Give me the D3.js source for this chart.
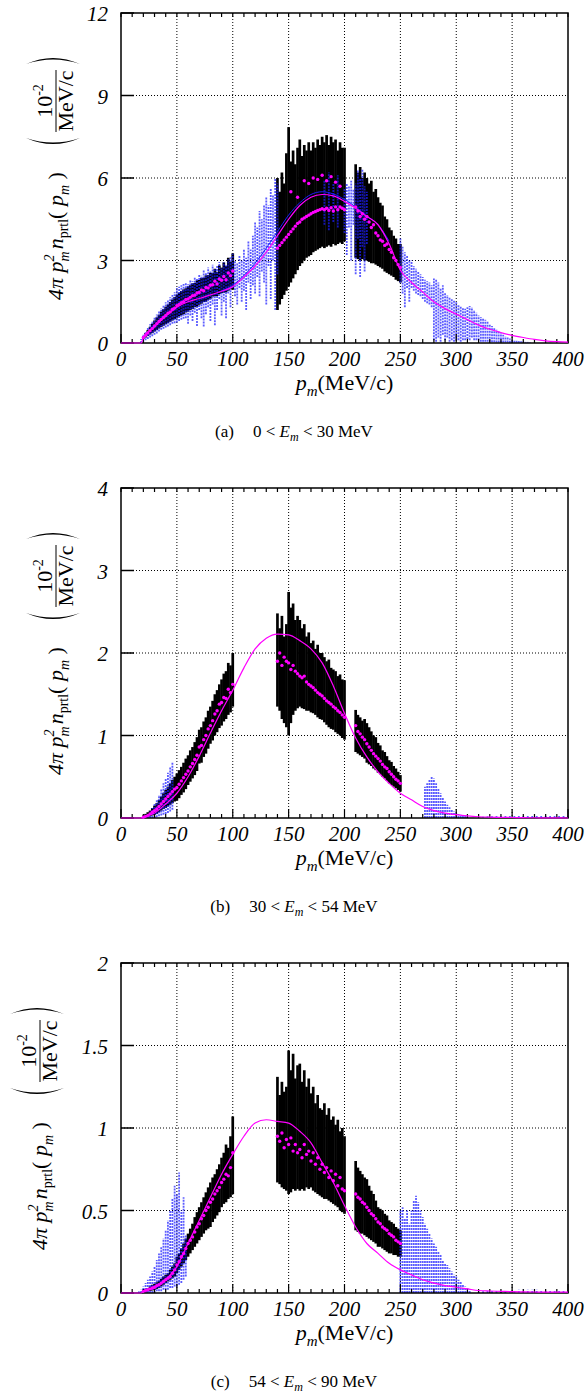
<!DOCTYPE html>
<html>
<head>
<meta charset="utf-8">
<script src="https://cdn.jsdelivr.net/npm/d3@7"></script>
<style>
	html, body { margin: 0; padding: 0; background: #fff; }
	svg { display: block; }
</style>
</head>
<body>
<svg id="chart" width="587" height="1399"></svg>
<script>
// Axis ticks and captions

var xTicks = [0, 50, 100, 150, 200, 250, 300, 350, 400];
var yTicksA = [0, 3, 6, 9, 12];
var yTicksB = [0, 1, 2, 3, 4];
var yTicksC = [0, 0.5, 1, 1.5, 2];
var captionTag = ["(a)", "(b)", "(c)"];
var captionLo = ["0", "30", "54"];
var captionHi = ["30", "54", "90"];

// Momentum grids (MeV/c)

var barP = d3.range(20, 101, 2).concat(d3.range(140, 201, 2), d3.range(210, 251, 2));
var curveP = [0, 10, 18, 20, 30, 40, 50, 60, 70, 80,
	90, 100, 110, 120, 130, 140, 150, 160, 170, 180,
	190, 200, 210, 220, 230, 240, 250, 260, 270, 280,
	290, 300, 310, 320, 330, 340, 350, 360, 370, 380,
	390, 400];
var bandPA = d3.range(18, 141, 2).concat([182, 186, 190, 194], d3.range(200, 221, 2), d3.range(250, 367, 2));
var bandPB = d3.range(22, 47, 2).concat(d3.range(272, 311, 2), d3.range(320, 401, 4));
var bandPC = d3.range(16, 59, 2).concat(d3.range(250, 313, 2), d3.range(320, 401, 4));

// (a) 0 < Em < 30 MeV

var barLoA = [0.15, 0.2, 0.25, 0.31, 0.36, 0.42, 0.47, 0.53, 0.58, 0.63,
	0.68, 0.72, 0.77, 0.82, 0.87, 0.92, 0.97, 1.01, 1.05, 1.11,
	1.14, 1.2, 1.23, 1.3, 1.32, 1.39, 1.43, 1.49, 1.5, 1.57,
	1.61, 1.69, 1.7, 1.71, 1.78, 1.82, 1.83, 1.84, 1.9, 1.95,
	1.94,
	1.2, 1.4, 1.6, 1.75, 1.9, 2.05, 2.2, 2.35, 2.5, 2.65,
	2.8, 2.9, 3.0, 3.1, 3.15, 3.2, 3.3, 3.35, 3.4, 3.45,
	3.5, 3.45, 3.5, 3.55, 3.5, 3.6, 3.55, 3.6, 3.65, 3.6,
	3.7,
	3.1, 3.05, 3.0, 3.05, 3.0, 3.0, 2.95, 2.9, 2.9, 2.85,
	2.8, 2.75, 2.7, 2.6, 2.55, 2.5, 2.45, 2.4, 2.3, 2.25,
	2.2];
var barHiA = [0.25, 0.36, 0.47, 0.59, 0.7, 0.82, 0.93, 1.03, 1.14, 1.23,
	1.32, 1.4, 1.49, 1.58, 1.67, 1.76, 1.83, 1.89, 1.95, 1.99,
	2.06, 2.1, 2.17, 2.18, 2.28, 2.29, 2.37, 2.37, 2.46, 2.47,
	2.55, 2.55, 2.7, 2.59, 2.82, 2.74, 2.93, 2.8, 3.1, 2.95,
	3.26,
	6.0, 5.5, 6.2, 5.8, 6.9, 7.85, 6.6, 7.0, 6.5, 7.1,
	7.4, 6.8, 7.2, 7.0, 7.3, 7.0, 7.3, 7.1, 7.4, 7.2,
	7.5, 7.3, 7.56, 7.2, 7.5, 7.3, 7.4, 7.0, 7.3, 7.1,
	7.1,
	6.5, 6.2, 6.4, 6.0, 6.2, 6.0, 5.8, 5.9, 5.5, 5.6,
	5.3, 5.1, 5.0, 4.6, 4.5, 4.2, 4.1, 3.9, 3.8, 3.6,
	3.6];
var pointsA = [0.2, 0.28, 0.36, 0.45, 0.53, 0.62, 0.7, 0.78, 0.86, 0.93,
	1.0, 1.08, 1.13, 1.22, 1.27, 1.36, 1.4, 1.47, 1.5, 1.58,
	1.6, 1.66, 1.72, 1.74, 1.82, 1.84, 1.93, 1.9, 2.02, 2.0,
	2.1, 2.12, 2.25, 2.15, 2.33, 2.28, 2.42, 2.3, 2.55, 2.45,
	2.62,
	3.45, 3.55, 3.65, 3.75, 3.85, 3.95, 4.05, 4.15, 4.25, 4.35,
	4.4, 4.5, 4.55, 4.6, 4.65, 4.7, 4.75, 4.78, 4.82, 4.85,
	4.88, 4.85, 4.9, 4.82, 4.92, 4.8, 4.95, 4.85, 4.95, 4.9,
	4.85,
	4.95, 4.8, 4.6, 4.7, 4.5, 4.6, 4.4, 4.2, 4.3, 4.0,
	3.9, 3.75, 3.7, 3.55, 3.6, 3.4, 3.3, 3.1, 3.0, 2.85,
	2.75];
var extraPA = [152, 158, 164, 168, 172, 176, 180, 184, 188, 192, 196];
var extraA = [5.5, 5.3, 5.9, 5.8, 6.0, 5.95, 6.1, 5.9, 6.05, 5.85, 5.7];
var bandLoA = [0, 0.05, 0.1, 0.15, 0.2, 0.25, 0.3, 0.35, 0.42, 0.48,
	0.52, 0.56, 0.6, 0.65, 0.7, 0.72, 0.75, 0.8, 0.85, 0.88,
	0.9, 0.7, 1.0, 0.8, 1.1, 0.62, 1.2, 0.9, 0.6, 1.05,
	1.3, 0.8, 1.4, 0.65, 1.2, 1.6, 1.0, 1.5, 0.9, 1.8,
	1.3, 2.0, 1.7, 1.4, 2.0, 1.5, 1.9, 1.2, 2.2, 1.6,
	2.1, 1.8, 2.4, 1.7, 2.6, 2.2, 1.4, 2.8, 1.6, 3.0,
	1.2, 2.5,
	4.3, 4.1, 4.4, 4.2,
	4.0, 3.2, 4.2, 3.0, 4.3, 2.5, 3.8, 2.4, 3.5, 2.6, 3.6,
	2.2, 1.8, 1.3, 2.0, 1.5, 2.0, 1.9, 1.8, 1.75, 1.7,
	1.6, 1.5, 1.45, 1.4, 1.3, 0.1, 0.05, 0.2, 0.05, 0.3,
	0.1, 0.2, 0.05, 0.1, 0.05, 0.1, 0.1, 0.05, 0.1, 0.1,
	0.15, 0.1, 0.2, 0.1, 0.1, 0.1, 0.05, 0.05, 0.05, 0.05,
	0.05, 0.03, 0.03, 0.02, 0.02, 0.02, 0.02, 0.02, 0.02, 0.01,
	0.01, 0.01, 0.01, 0.01, 0.01, 0.01, 0.01, 0.01, 0.01];
var bandHiA = [0.15, 0.3, 0.42, 0.55, 0.68, 0.8, 0.92, 1.04, 1.15, 1.26,
	1.37, 1.48, 1.57, 1.66, 1.75, 1.85, 2.0, 2.05, 2.1, 2.15,
	2.2, 2.15, 2.3, 2.25, 2.4, 2.35, 2.5, 2.45, 2.65, 2.55,
	2.75, 2.6, 2.85, 2.7, 2.8, 2.95, 2.75, 2.95, 2.85, 3.05,
	3.15, 3.25, 3.0, 2.9, 3.2, 3.0, 3.4, 3.1, 3.7, 3.4,
	3.9, 4.4, 4.2, 4.8, 4.5, 5.0, 5.3, 5.0, 5.6, 5.4,
	6.0, 5.8,
	5.9, 6.2, 5.8, 6.1,
	5.6, 5.8, 5.7, 5.9, 5.6, 5.8, 6.3, 6.0, 6.3, 5.7, 5.5,
	3.8, 3.5, 3.3, 3.2, 3.0, 3.0, 2.8, 2.7, 2.6, 2.5,
	2.4, 2.3, 2.25, 2.2, 2.1, 2.35, 2.3, 2.2, 2.0, 2.1,
	1.85, 1.75, 1.65, 1.6, 1.55, 1.5, 1.4, 1.35, 1.3, 1.25,
	1.3, 1.35, 1.3, 1.2, 1.1, 1.0, 0.95, 0.9, 0.85, 0.78,
	0.7, 0.62, 0.55, 0.48, 0.42, 0.36, 0.3, 0.25, 0.2, 0.16,
	0.13, 0.1, 0.08, 0.07, 0.06, 0.05, 0.04, 0.04, 0.03];
var curveA = [0, 0, 0, 0.2, 0.6, 0.98, 1.3, 1.5, 1.62, 1.75,
	1.88, 2.05, 2.4, 2.8, 3.3, 3.9, 4.5, 5.0, 5.3, 5.4,
	5.35, 5.15, 4.9, 4.6, 4.3, 3.6, 2.65, 2.2, 1.85, 1.5,
	1.25, 1.05, 0.85, 0.65, 0.5, 0.38, 0.28, 0.2, 0.13, 0.08,
	0.05, 0.03];
var blueCurvePA = [90, 100, 110, 120, 130, 140, 150, 160, 170, 180, 190, 200, 210, 220, 230, 240];
var blueCurveA = [1.9, 2.1, 2.45, 2.9, 3.45, 4.05, 4.65, 5.1, 5.4, 5.5, 5.42, 5.22, 4.95, 4.62, 4.3, 3.7];

// (b) 30 < Em < 54 MeV

var barLoB = [0, 0, 0.01, 0.02, 0.03, 0.04, 0.05, 0.07, 0.09, 0.11,
	0.12, 0.14, 0.16, 0.18, 0.2, 0.21, 0.24, 0.28, 0.31, 0.35,
	0.4, 0.44, 0.48, 0.52, 0.57, 0.66, 0.67, 0.74, 0.78, 0.84,
	0.9, 0.94, 1.0, 1.04, 1.09, 1.12, 1.17, 1.2, 1.25, 1.28,
	1.35,
	1.35, 1.3, 1.2, 1.15, 1.1, 1.0, 1.15, 1.25, 1.3, 1.33,
	1.35, 1.33, 1.32, 1.3, 1.3, 1.28, 1.27, 1.25, 1.22, 1.2,
	1.19, 1.16, 1.13, 1.1, 1.08, 1.07, 1.04, 1.02, 1.0, 0.97,
	0.95,
	0.8, 0.78, 0.76, 0.74, 0.72, 0.67, 0.65, 0.63, 0.6, 0.58,
	0.55, 0.53, 0.5, 0.48, 0.45, 0.42, 0.4, 0.38, 0.36, 0.34,
	0.32];
var barHiB = [0.03, 0.05, 0.07, 0.09, 0.12, 0.15, 0.18, 0.22, 0.26, 0.3,
	0.34, 0.38, 0.42, 0.46, 0.5, 0.54, 0.58, 0.62, 0.67, 0.72,
	0.76, 0.82, 0.86, 0.92, 0.98, 1.07, 1.1, 1.17, 1.22, 1.3,
	1.35, 1.42, 1.5, 1.55, 1.62, 1.68, 1.75, 1.78, 1.88, 1.85,
	2.0,
	2.48, 2.3, 2.45, 2.2, 2.35, 2.74, 2.55, 2.6, 2.4, 2.45,
	2.4, 2.3, 2.35, 2.2, 2.25, 2.12, 2.15, 2.05, 2.1, 2.0,
	2.0, 1.95, 1.9, 1.92, 1.82, 1.8, 1.78, 1.72, 1.74, 1.68,
	1.67,
	1.31, 1.25, 1.22, 1.18, 1.2, 1.15, 1.1, 1.05, 1.0, 0.98,
	0.91, 0.88, 0.82, 0.8, 0.75, 0.7, 0.68, 0.63, 0.6, 0.56,
	0.52];
var pointsB = [0.01, 0.02, 0.03, 0.05, 0.07, 0.09, 0.11, 0.14, 0.17, 0.2,
	0.23, 0.26, 0.29, 0.32, 0.35, 0.37, 0.41, 0.45, 0.49, 0.53,
	0.57, 0.62, 0.66, 0.71, 0.76, 0.86, 0.88, 0.95, 1.0, 1.08,
	1.12, 1.18, 1.26, 1.3, 1.38, 1.4, 1.46, 1.45, 1.56, 1.52,
	1.62,
	1.9, 2.0, 1.85, 1.95, 1.9, 1.88, 1.8, 1.85, 1.78, 1.75,
	1.72, 1.7, 1.72, 1.65, 1.62, 1.6, 1.58, 1.55, 1.52, 1.5,
	1.48, 1.45, 1.42, 1.4, 1.38, 1.35, 1.33, 1.3, 1.28, 1.25,
	1.22,
	1.12, 1.05, 1.02, 0.98, 0.95, 0.9, 0.86, 0.82, 0.78, 0.75,
	0.72, 0.69, 0.65, 0.62, 0.6, 0.56, 0.53, 0.5, 0.47, 0.45,
	0.42];
var bandLoB = [0, 0, 0, 0, 0, 0.01, 0.02, 0.03, 0.04, 0.05,
	0.06, 0.08, 0.1,
	0, 0, 0, 0, 0, 0, 0, 0, 0, 0,
	0, 0, 0, 0, 0, 0, 0, 0, 0, 0,
	0, 0, 0, 0, 0, 0, 0, 0, 0, 0,
	0, 0, 0, 0, 0, 0, 0, 0, 0, 0,
	0];
var bandHiB = [0.03, 0.05, 0.08, 0.12, 0.17, 0.22, 0.28, 0.35, 0.42, 0.48,
	0.55, 0.62, 0.67,
	0.38, 0.42, 0.46, 0.5, 0.48, 0.42, 0.36, 0.3, 0.25, 0.2,
	0.16, 0.13, 0.1, 0.08, 0.06, 0.05, 0.04, 0.03, 0.025, 0.02,
	0.01, 0.015, 0.02, 0.02, 0.025, 0.03, 0.03, 0.03, 0.035, 0.035,
	0.035, 0.035, 0.035, 0.035, 0.03, 0.03, 0.03, 0.03, 0.025, 0.025,
	0.02];
var curveB = [0, 0, 0, 0.01, 0.06, 0.17, 0.3, 0.5, 0.75, 1.03,
	1.3, 1.55, 1.82, 2.05, 2.18, 2.23, 2.22, 2.15, 2.05, 1.88,
	1.6, 1.27, 0.97, 0.74, 0.56, 0.42, 0.3, 0.22, 0.14, 0.09,
	0.06, 0.04, 0.025, 0.015, 0.01, 0.008, 0.006, 0.004, 0.003, 0.002,
	0.001, 0];

// (c) 54 < Em < 90 MeV

var barLoC = [0, 0.005, 0.01, 0.012, 0.015, 0.02, 0.025, 0.03, 0.04, 0.05,
	0.06, 0.07, 0.08, 0.09, 0.1, 0.12, 0.14, 0.16, 0.18, 0.2,
	0.22, 0.24, 0.26, 0.28, 0.3, 0.32, 0.34, 0.36, 0.38, 0.39,
	0.4, 0.43, 0.45, 0.47, 0.49, 0.52, 0.54, 0.55, 0.57, 0.58,
	0.6,
	0.67, 0.66, 0.64, 0.63, 0.62, 0.6, 0.61, 0.63, 0.62, 0.63,
	0.62, 0.63, 0.62, 0.64, 0.63, 0.64, 0.62, 0.61, 0.6, 0.59,
	0.58, 0.57, 0.57, 0.56, 0.55, 0.54, 0.53, 0.52, 0.5, 0.49,
	0.48,
	0.38, 0.37, 0.36, 0.36, 0.35, 0.34, 0.33, 0.32, 0.31, 0.3,
	0.28, 0.28, 0.27, 0.26, 0.25, 0.24, 0.24, 0.23, 0.23, 0.22,
	0.22];
var barHiC = [0.02, 0.025, 0.03, 0.04, 0.05, 0.055, 0.065, 0.075, 0.085, 0.1,
	0.11, 0.12, 0.14, 0.16, 0.18, 0.22, 0.24, 0.27, 0.3, 0.33,
	0.36, 0.39, 0.42, 0.46, 0.49, 0.52, 0.55, 0.58, 0.61, 0.64,
	0.67, 0.7, 0.72, 0.75, 0.78, 0.82, 0.85, 0.9, 0.88, 0.95,
	1.07,
	1.31, 1.2, 1.28, 1.22, 1.25, 1.47, 1.35, 1.45, 1.3, 1.38,
	1.39, 1.28, 1.35, 1.25, 1.3, 1.21, 1.25, 1.15, 1.2, 1.12,
	1.11, 1.15, 1.08, 1.12, 1.05, 1.07, 1.02, 1.05, 0.98, 1.0,
	0.95,
	0.8, 0.76, 0.74, 0.72, 0.7, 0.69, 0.65, 0.62, 0.6, 0.56,
	0.52, 0.51, 0.5, 0.48, 0.47, 0.44, 0.43, 0.42, 0.4, 0.39,
	0.38];
var pointsC = [0.01, 0.015, 0.02, 0.025, 0.03, 0.035, 0.045, 0.05, 0.06, 0.07,
	0.08, 0.09, 0.1, 0.12, 0.14, 0.17, 0.19, 0.22, 0.24, 0.27,
	0.3, 0.32, 0.34, 0.37, 0.4, 0.42, 0.45, 0.47, 0.5, 0.52,
	0.55, 0.57, 0.6, 0.62, 0.64, 0.67, 0.69, 0.72, 0.71, 0.76,
	0.85,
	0.95, 0.92, 0.97, 0.88, 0.93, 0.9, 0.94, 0.86, 0.9, 0.85,
	0.87, 0.82, 0.9, 0.84, 0.86, 0.8, 0.85, 0.78, 0.82, 0.75,
	0.78, 0.73, 0.76, 0.7, 0.74, 0.68, 0.72, 0.65, 0.7, 0.63,
	0.62,
	0.6, 0.58, 0.57, 0.55, 0.54, 0.52, 0.5, 0.48, 0.47, 0.45,
	0.43, 0.42, 0.4, 0.39, 0.38, 0.36, 0.35, 0.34, 0.32, 0.31,
	0.3];
var bandLoC = [0, 0, 0, 0, 0, 0, 0, 0, 0.01, 0.01,
	0.01, 0.02, 0.02, 0.02, 0.03, 0.03, 0.04, 0.04, 0.05, 0.06,
	0.08, 0.1,
	0, 0, 0, 0, 0, 0, 0, 0, 0, 0,
	0, 0, 0, 0, 0, 0, 0, 0, 0, 0,
	0, 0, 0, 0, 0, 0, 0, 0, 0, 0,
	0, 0,
	0, 0, 0, 0, 0, 0, 0, 0, 0, 0,
	0, 0, 0, 0, 0, 0, 0, 0, 0, 0,
	0];
var bandHiC = [0.01, 0.02, 0.04, 0.06, 0.08, 0.1, 0.13, 0.16, 0.2, 0.24,
	0.28, 0.33, 0.38, 0.44, 0.5, 0.57, 0.65, 0.6, 0.73, 0.5,
	0.58, 0.35,
	0.5, 0.52, 0.45, 0.5, 0.42, 0.5, 0.56, 0.59, 0.55, 0.5,
	0.46, 0.42, 0.39, 0.36, 0.33, 0.3, 0.28, 0.25, 0.23, 0.2,
	0.18, 0.17, 0.15, 0.13, 0.11, 0.1, 0.08, 0.07, 0.05, 0.04,
	0.03, 0.02,
	0.008, 0.01, 0.012, 0.012, 0.015, 0.015, 0.018, 0.018, 0.018, 0.02,
	0.02, 0.02, 0.02, 0.02, 0.018, 0.018, 0.015, 0.015, 0.012, 0.012,
	0.01];
var curveC = [0, 0, 0, 0.01, 0.03, 0.08, 0.16, 0.3, 0.44, 0.58,
	0.72, 0.84, 0.95, 1.03, 1.05, 1.04, 1.03, 0.98, 0.91, 0.79,
	0.67, 0.53, 0.4, 0.3, 0.24, 0.18, 0.14, 0.11, 0.08, 0.06,
	0.045, 0.035, 0.025, 0.015, 0.012, 0.01, 0.008, 0.007, 0.006, 0.005,
	0.005, 0.005];

// Panel layout

var svg = d3.select("#chart"),
	serif = "'Liberation Serif', 'Times New Roman', Times, serif",
	left = 121,
	plotW = 447,
	plotH = 330,
	magenta = "#ff00ff",
	blue = "#1c1cff";

var x = d3.scaleLinear().domain([0, 400]).range([left, left + plotW]);

var panels = [
	{top: 13, ymax: 12, yTicks: yTicksA, lo: barLoA, hi: barHiA, pts: pointsA,
		bandP: bandPA, bandLo: bandLoA, bandHi: bandHiA, curve: curveA, labelX: 56},
	{top: 488, ymax: 4, yTicks: yTicksB, lo: barLoB, hi: barHiB, pts: pointsB,
		bandP: bandPB, bandLo: bandLoB, bandHi: bandHiB, curve: curveB, labelX: 56},
	{top: 963, ymax: 2, yTicks: yTicksC, lo: barLoC, hi: barHiC, pts: pointsC,
		bandP: bandPC, bandLo: bandLoC, bandHi: bandHiC, curve: curveC, labelX: 40}
];

panels.forEach((pn, k) => drawPanel(pn, k));

function drawPanel(pn, k)
{
	var bottom = pn.top + plotH;
	var y = d3.scaleLinear().domain([0, pn.ymax]).range([bottom, pn.top]);
	var g = svg.append("g").attr("class", "panel" + k);

	// Dotted grid

	g.append("g")
		.selectAll("line")
		.data(xTicks.slice(1, -1))
		.enter()
		.append("line")
		.attr("x1", d => x(d)).attr("x2", d => x(d))
		.attr("y1", pn.top).attr("y2", bottom)
		.attr("stroke", "#000").attr("stroke-width", 1)
		.attr("stroke-dasharray", "1,2");

	g.append("g")
		.selectAll("line")
		.data(pn.yTicks.slice(1, -1))
		.enter()
		.append("line")
		.attr("x1", left).attr("x2", left + plotW)
		.attr("y1", d => y(d)).attr("y2", d => y(d))
		.attr("stroke", "#000").attr("stroke-width", 1)
		.attr("stroke-dasharray", "1,2");

	// Black error bars

	g.append("g")
		.selectAll("line")
		.data(barP)
		.enter()
		.append("line")
		.attr("x1", d => x(d)).attr("x2", d => x(d))
		.attr("y1", (d, i) => y(pn.lo[i]))
		.attr("y2", (d, i) => y(pn.hi[i]))
		.attr("stroke", "#000").attr("stroke-width", 2.7);

	// Hatched blue band

	g.append("g")
		.selectAll("line")
		.data(pn.bandP)
		.enter()
		.append("line")
		.attr("x1", d => x(d)).attr("x2", d => x(d))
		.attr("y1", (d, i) => y(pn.bandLo[i]))
		.attr("y2", (d, i) => y(pn.bandHi[i]))
		.attr("stroke", blue).attr("stroke-width", 1.8)
		.attr("stroke-opacity", 0.72)
		.attr("stroke-dasharray", "2,1");

	// Frame and ticks

	g.append("rect")
		.attr("x", left).attr("y", pn.top)
		.attr("width", plotW).attr("height", plotH)
		.attr("fill", "none").attr("stroke", "#000").attr("stroke-width", 1.5);

	var minor = d3.range(0, 401, 10);
	g.append("g")
		.selectAll("line")
		.data(minor)
		.enter()
		.append("line")
		.attr("x1", d => x(d)).attr("x2", d => x(d))
		.attr("y1", bottom)
		.attr("y2", d => bottom - (d % 50 == 0 ? 9 : 4))
		.attr("stroke", "#000").attr("stroke-width", 1.2);

	g.append("g")
		.selectAll("line")
		.data(minor)
		.enter()
		.append("line")
		.attr("x1", d => x(d)).attr("x2", d => x(d))
		.attr("y1", pn.top).attr("y2", pn.top + 4)
		.attr("stroke", "#000").attr("stroke-width", 1.2);

	g.append("g")
		.selectAll("line")
		.data(pn.yTicks)
		.enter()
		.append("line")
		.attr("x1", left).attr("x2", left + 13)
		.attr("y1", d => y(d)).attr("y2", d => y(d))
		.attr("stroke", "#000").attr("stroke-width", 1.5);

	// Curves and points

	var line = d3.line()
		.x((d, i) => x(d))
		.curve(d3.curveMonotoneX);

	if (k == 0) {
		g.append("path")
			.attr("d", line.y((d, i) => y(blueCurveA[i]))(blueCurvePA))
			.attr("fill", "none").attr("stroke", blue).attr("stroke-width", 1);
	}

	g.append("path")
		.attr("d", line.y((d, i) => y(pn.curve[i]))(curveP))
		.attr("fill", "none").attr("stroke", magenta).attr("stroke-width", 1.2);

	g.append("g")
		.selectAll("circle")
		.data(barP)
		.enter()
		.append("circle")
		.attr("cx", d => x(d))
		.attr("cy", (d, i) => y(pn.pts[i]))
		.attr("r", 1.7)
		.attr("fill", magenta);

	if (k == 0) {
		g.append("g")
			.selectAll("circle")
			.data(extraPA)
			.enter()
			.append("circle")
			.attr("cx", d => x(d))
			.attr("cy", (d, i) => y(extraA[i]))
			.attr("r", 1.7)
			.attr("fill", magenta);
	}

	// Tick labels

	g.append("g")
		.selectAll("text")
		.data(xTicks)
		.enter()
		.append("text")
		.attr("x", d => x(d))
		.attr("y", bottom + 23)
		.attr("text-anchor", "middle")
		.style("font-family", serif).style("font-style", "italic").style("font-size", "21px")
		.text(d => d);

	g.append("g")
		.selectAll("text")
		.data(pn.yTicks)
		.enter()
		.append("text")
		.attr("x", 108)
		.attr("y", d => y(d) + 8)
		.attr("text-anchor", "end")
		.style("font-family", serif).style("font-style", "italic").style("font-size", "21px")
		.text(d => d);

	// Axis titles and caption

	var xl = g.append("text")
		.attr("x", left + plotW / 2)
		.attr("y", bottom + 47)
		.attr("text-anchor", "middle")
		.style("font-family", serif).style("font-size", "22px");
	xl.append("tspan").style("font-style", "italic").text("p");
	xl.append("tspan").attr("dy", 6).style("font-style", "italic").style("font-size", "15px").text("m");
	xl.append("tspan").attr("dy", -6).text("(MeV/c)");

	drawYLabel(g, pn.labelX, pn.top + plotH / 2);

	var cap = g.append("text")
		.attr("x", 294)
		.attr("y", bottom + 94)
		.attr("text-anchor", "middle")
		.style("font-family", serif).style("font-size", "17px")
		.style("white-space", "pre");
	cap.append("tspan").text(captionTag[k]);
	cap.append("tspan").attr("dx", 19).text(captionLo[k] + " < ");
	cap.append("tspan").style("font-style", "italic").text("E");
	cap.append("tspan").attr("dy", 4).style("font-style", "italic").style("font-size", "12px").text("m");
	cap.append("tspan").attr("dy", -4).text(" < " + captionHi[k] + " MeV");
}

// Rotated y title with the big bracketed unit

function drawYLabel(g, cx, cy)
{
	var t = g.append("g")
		.attr("transform", "translate(" + cx + "," + cy + ") rotate(-90)");

	var main = t.append("text")
		.attr("x", -122).attr("y", 7)
		.style("font-family", serif).style("font-size", "22px").style("font-style", "italic")
		.style("white-space", "pre");
	main.append("tspan").text("4π ");
	main.append("tspan").text("p");
	main.append("tspan").attr("dy", -9).style("font-size", "14px").text("2");
	main.append("tspan").attr("dx", -7).attr("dy", 15).style("font-size", "14px").text("m");
	main.append("tspan").attr("dx", 2).attr("dy", -6).text("n");
	main.append("tspan").attr("dy", 5).style("font-size", "14px").style("font-style", "normal").text("prtl");
	main.append("tspan").attr("dy", -5).style("font-style", "normal").text("( ");
	main.append("tspan").text("p");
	main.append("tspan").attr("dy", 6).style("font-size", "14px").text("m");
	main.append("tspan").attr("dy", -6).style("font-style", "normal").text(" )");

	var num = t.append("text")
		.attr("x", 77).attr("y", -4)
		.attr("text-anchor", "middle")
		.style("font-family", serif).style("font-size", "22px");
	num.append("tspan").text("10");
	num.append("tspan").attr("dy", -9).style("font-size", "14px").text("-2");

	t.append("text")
		.attr("x", 77).attr("y", 17)
		.attr("text-anchor", "middle")
		.style("font-family", serif).style("font-size", "22px")
		.text("MeV/c");

	t.append("line")
		.attr("x1", 46).attr("x2", 108)
		.attr("y1", 0).attr("y2", 0)
		.attr("stroke", "#000").attr("stroke-width", 1);

	t.append("path")
		.attr("d", "M40,-30 Q28,-3 40,24 Q31,-3 40,-30 Z")
		.attr("fill", "#000");
	t.append("path")
		.attr("d", "M114,-30 Q126,-3 114,24 Q123,-3 114,-30 Z")
		.attr("fill", "#000");
}
</script>
</body>
</html>
